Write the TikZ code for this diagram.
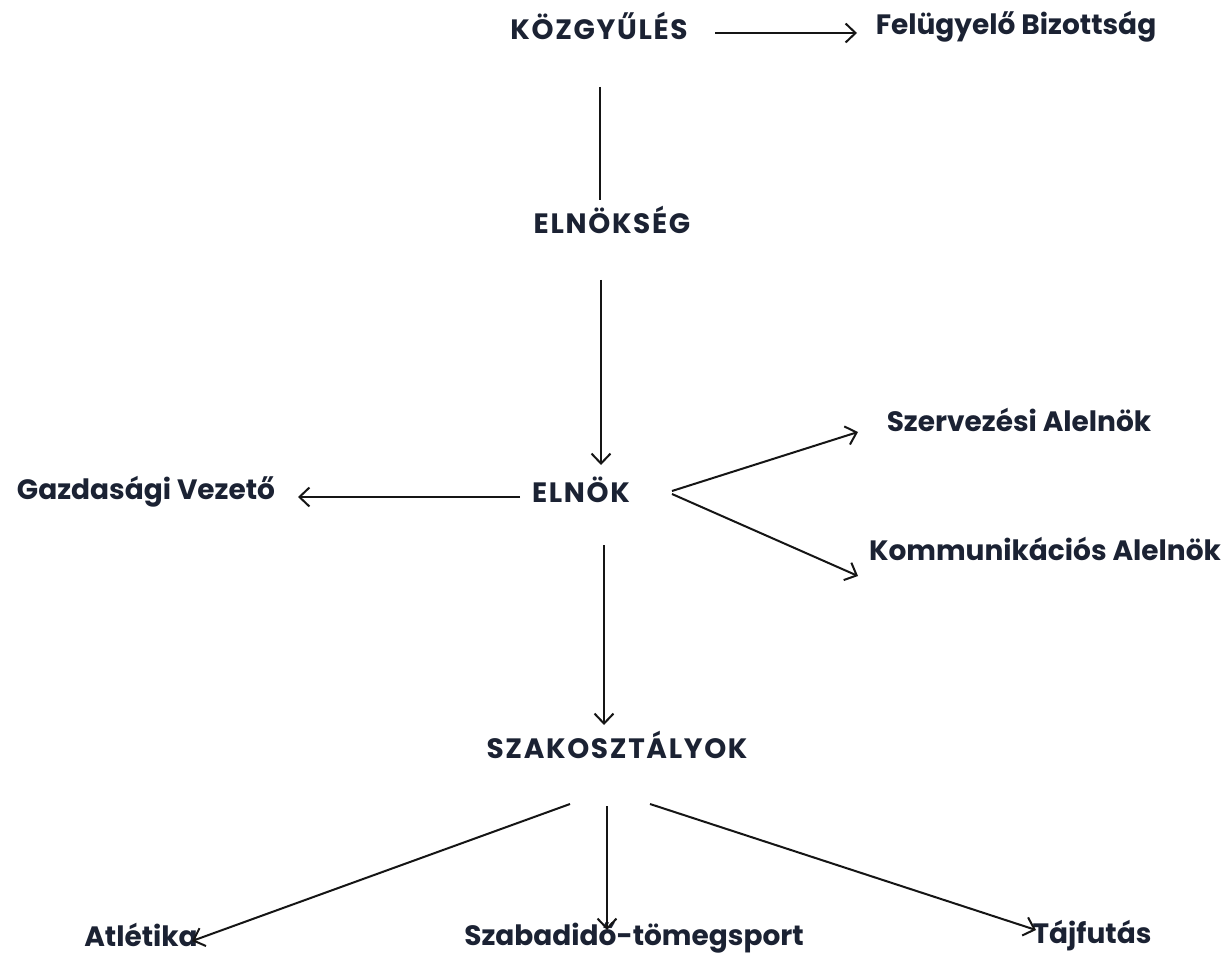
\documentclass[tikz,border=0pt]{standalone}
\usepackage{fontspec}
\setmainfont{Poppins}
\newfontfamily\capsfont{Poppins}[LetterSpace=6]
\usetikzlibrary{arrows.meta,calc}
\definecolor{txt}{HTML}{1B2233}
\definecolor{ln}{HTML}{151515}
\tikzset{
  lbl/.style={inner sep=0pt, text=txt, font=\fontsize{28}{32}\selectfont\bfseries},
  caps/.style={lbl, font=\capsfont\fontsize{28}{32}\selectfont\bfseries},
  conn/.style={draw=ln, line width=2pt},
  arr/.style={conn, -{Straight Barb[length=10pt,width=19pt]}}
}
\begin{document}
\begin{tikzpicture}[x=1pt,y=-1pt]
\fill[white] (0,0) rectangle (1230,957);
\useasboundingbox (0,0) rectangle (1230,957);
\node[caps] (kozgy) at (599,26) {KÖZGYŰLÉS};
\node[lbl] (fb) at (1016,27) {Felügyelő Bizottság};
\node[caps] (elnokseg) at (612,220) {ELNÖKSÉG};
\node[caps] (elnok) at (581,490) {ELNÖK};
\node[lbl] (gv) at (146,492) {Gazdasági Vezető};
\node[lbl] (sza) at (1019,420) {Szervezési Alelnök};
\node[lbl] (ka) at (1045,549) {Kommunikációs Alelnök};
\node[caps] (szak) at (617,745) {SZAKOSZTÁLYOK};
\node[lbl] (atl) at (141,935) {Atlétika};
\node[lbl] (szt) at (634,938) {Szabadidő-tömegsport};
\node[lbl] (taj) at (1092,936) {Tájfutás};

\draw[arr] ($(kozgy)+(116,7)$) -- ($(fb)+(-159,6)$);
\draw[conn] ($(kozgy)+(1,61)$) -- ($(elnokseg)+(-12,-20)$);
\draw[arr] ($(elnokseg)+(-11,60)$) -- ($(elnok)+(20,-25)$);
\draw[arr] ($(elnok)+(-61,7)$) -- ($(gv)+(152,5)$);
\draw[arr] ($(elnok)+(91,1)$) -- ($(sza)+(-161,12)$);
\draw[arr] ($(elnok)+(91,4)$) -- ($(ka)+(-187,27)$);
\draw[arr] ($(elnok)+(23,55)$) -- ($(szak)+(-13,-20)$);
\draw[arr] ($(szak)+(-47,59)$) -- ($(atl)+(51,6)$);
\draw[arr] ($(szak)+(-10,61)$) -- ($(szt)+(-27,-8)$);
\draw[arr] ($(szak)+(33,59)$) -- ($(taj)+(-56,-6)$);
\end{tikzpicture}
\end{document}
